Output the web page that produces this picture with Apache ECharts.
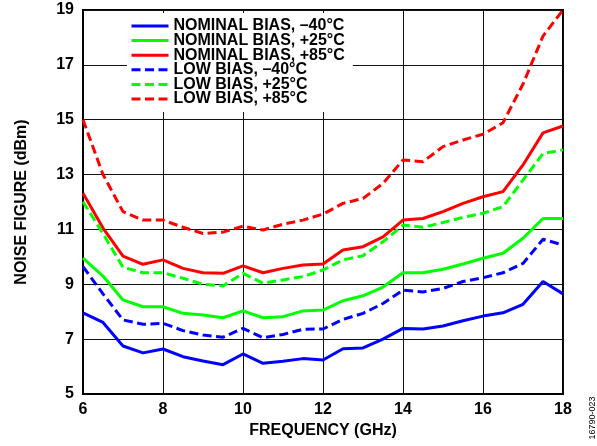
<!DOCTYPE html>
<html>
<head>
<meta charset="utf-8">
<script src="https://cdn.jsdelivr.net/npm/echarts@6/dist/echarts.min.js"></script>
<style>
html,body{margin:0;padding:0;background:#fff;}
#chart{width:597px;height:446px;}
</style>
</head>
<body>
<div id="chart"></div>
<script>
const frequencyGHz = [6, 6.5, 7, 7.5, 8, 8.5, 9, 9.5, 10, 10.5, 11, 11.5, 12, 12.5, 13, 13.5, 14, 14.5, 15, 15.5, 16, 16.5, 17, 17.5, 18];
const nominalM40 = [7.96, 7.61, 6.75, 6.5, 6.64, 6.36, 6.2, 6.07, 6.46, 6.12, 6.19, 6.29, 6.24, 6.65, 6.68, 7.0, 7.39, 7.37, 7.48, 7.67, 7.84, 7.96, 8.27, 9.1, 8.65];
const nominalP25 = [9.95, 9.3, 8.43, 8.18, 8.18, 7.94, 7.88, 7.78, 8.03, 7.78, 7.82, 8.03, 8.06, 8.4, 8.58, 8.9, 9.42, 9.42, 9.55, 9.74, 9.95, 10.13, 10.68, 11.4, 11.4];
const nominalP85 = [12.32, 11.05, 10.03, 9.73, 9.89, 9.58, 9.42, 9.4, 9.67, 9.42, 9.58, 9.7, 9.74, 10.25, 10.37, 10.73, 11.34, 11.4, 11.65, 11.95, 12.19, 12.38, 13.35, 14.52, 14.77];
const lowM40 = [9.64, 8.65, 7.7, 7.54, 7.58, 7.31, 7.15, 7.07, 7.39, 7.05, 7.17, 7.36, 7.37, 7.72, 7.94, 8.3, 8.79, 8.72, 8.85, 9.1, 9.24, 9.42, 9.76, 10.64, 10.43];
const lowP25 = [12.01, 10.85, 9.62, 9.42, 9.42, 9.22, 9.0, 8.94, 9.4, 9.04, 9.16, 9.28, 9.52, 9.89, 10.04, 10.55, 11.16, 11.08, 11.25, 11.44, 11.59, 11.83, 12.8, 13.77, 13.9];
const lowP85 = [15.0, 13.0, 11.65, 11.34, 11.34, 11.08, 10.85, 10.9, 11.12, 10.98, 11.19, 11.34, 11.56, 11.95, 12.13, 12.68, 13.53, 13.47, 14.02, 14.26, 14.47, 14.89, 16.3, 18.05, 19.0];
const seriesNames = ['NOMINAL BIAS, \u201340\u00b0C', 'NOMINAL BIAS, +25\u00b0C', 'NOMINAL BIAS, +85\u00b0C', 'LOW BIAS, \u201340\u00b0C', 'LOW BIAS, +25\u00b0C', 'LOW BIAS, +85\u00b0C'];
const xTicks = [6, 8, 10, 12, 14, 16, 18];
const yTicks = [5, 7, 9, 11, 13, 15, 17, 19];

const FONT = '"Liberation Sans", Arial, Helvetica, sans-serif';
const valuesList = [nominalM40, nominalP25, nominalP85, lowM40, lowP25, lowP85];
const colors = ['#0000ff', '#00ff00', '#ff0000', '#0000ff', '#00ff00', '#ff0000'];
const dashed = [false, false, false, true, true, true];

const series = valuesList.map((vals, i) => ({
  name: seriesNames[i],
  type: 'line',
  data: vals.map((v, j) => [frequencyGHz[j], v]),
  symbol: 'none',
  color: colors[i],
  lineStyle: { color: colors[i], width: 3, type: dashed[i] ? [9, 4.5] : 'solid', cap: 'butt' },
  z: 3,
  animation: false
}));

const chart = echarts.init(document.getElementById('chart'), null, { renderer: 'canvas' });
chart.setOption({
  animation: false,
  backgroundColor: '#ffffff',
  grid: { left: 83, right: 34, top: 10, bottom: 52, show: true, borderColor: '#000', borderWidth: 2, backgroundColor: 'transparent' },
  legend: {
    data: seriesNames,
    orient: 'vertical',
    left: 127,
    top: 13,
    padding: [5, 8, 5, 3],
    itemGap: -1.4,
    itemWidth: 37,
    itemHeight: 12,
    itemStyle: { opacity: 0 },
    lineStyle: { width: 3, opacity: 1 },
    backgroundColor: '#ffffff',
    textStyle: { fontFamily: FONT, fontWeight: 'bold', fontSize: 16, color: '#000' },
    z: 10
  },
  xAxis: {
    type: 'value',
    min: xTicks[0],
    max: xTicks[xTicks.length - 1],
    interval: 2,
    name: 'FREQUENCY (GHz)',
    nameLocation: 'middle',
    nameGap: 27,
    nameTextStyle: { fontFamily: FONT, fontWeight: 'bold', fontSize: 16, color: '#000' },
    axisLine: { show: true, lineStyle: { color: '#000', width: 2 } },
    axisTick: { show: false },
    axisLabel: { fontFamily: FONT, fontWeight: 'bold', fontSize: 16, color: '#000', margin: 8 },
    splitLine: { show: true, lineStyle: { color: '#111', width: 1 } }
  },
  yAxis: {
    type: 'value',
    min: yTicks[0],
    max: yTicks[yTicks.length - 1],
    interval: 2,
    name: 'NOISE FIGURE (dBm)',
    nameLocation: 'middle',
    nameGap: 53,
    nameRotate: 90,
    nameTextStyle: { fontFamily: FONT, fontWeight: 'bold', fontSize: 16, color: '#000' },
    axisLine: { show: true, lineStyle: { color: '#000', width: 2 } },
    axisTick: { show: false },
    axisLabel: { fontFamily: FONT, fontWeight: 'bold', fontSize: 16, color: '#000', margin: 9 },
    splitLine: { show: true, lineStyle: { color: '#111', width: 1 } }
  },
  graphic: [{
    type: 'text',
    x: 593,
    y: 418,
    rotation: Math.PI / 2,
    style: { text: '16790-023', fontFamily: FONT, fontSize: 9, fill: '#000', align: 'center', verticalAlign: 'middle' }
  }],
  series: series
});
</script>
</body>
</html>
